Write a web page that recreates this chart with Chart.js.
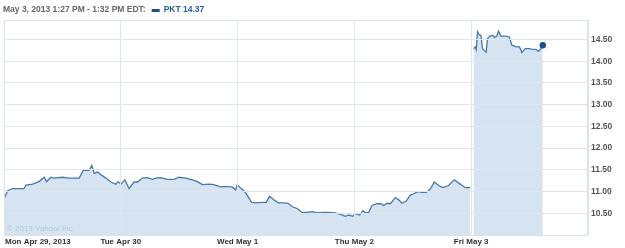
<!DOCTYPE html>
<html>
<head>
<meta charset="utf-8">
<script src="https://cdn.jsdelivr.net/npm/chart.js@4/dist/chart.umd.min.js"></script>
<style>
  html,body{margin:0;padding:0;background:#fff;}
  #wrap{width:625px;height:248px;position:relative;}
</style>
</head>
<body>
<div id="wrap"><canvas id="c" width="625" height="248"></canvas></div>
<script>
// ---- data (x = trading days since Mon Apr 29 open; null = overnight gap) ----
const dayLabels = ['Mon Apr 29, 2013', 'Tue Apr 30', 'Wed May 1', 'Thu May 2', 'Fri May 3'];
const dayTicks = [0, 1, 2, 3, 4, 5];
const priceTicks = [10.5, 11.0, 11.5, 12.0, 12.5, 13.0, 13.5, 14.0, 14.5];
const titleText = 'May 3, 2013 1:27 PM - 1:32 PM EDT:';
const legendText = 'PKT 14.37';
const watermark = '\u00A9 2013 Yahoo! Inc.';

const days = [
  0.000, 0.032, 0.074, 0.171, 0.188, 0.245, 0.299, 0.344, 0.365, 0.402, 0.425, 0.502, 0.558, 0.644,
  0.678, 0.729, 0.752, 0.772, 0.801, 0.829, 0.872, 0.915, 0.957, 0.977,
  1.000, 1.034, 1.071, 1.114, 1.143, 1.185, 1.228, 1.271, 1.299, 1.342, 1.399, 1.456, 1.498, 1.556,
  1.613, 1.656, 1.698, 1.755, 1.797, 1.855, 1.906, 1.955, 1.983,
  1.997, 2.026, 2.054, 2.083, 2.120, 2.154, 2.211, 2.245, 2.274, 2.310, 2.348, 2.396, 2.433, 2.468,
  2.510, 2.553, 2.596, 2.638, 2.681, 2.729, 2.780, 2.838, 2.889, 2.923, 2.951, 2.985,
  3.009, 3.045, 3.073, 3.094, 3.122, 3.151, 3.194, 3.228, 3.250, 3.280, 3.308, 3.350, 3.379, 3.408,
  3.444, 3.479, 3.507, 3.544, 3.579, 3.615, 3.650, 3.684, 3.721, 3.758, 3.806, 3.855, 3.891, 3.949, 3.991,
  4.005,
  4.020, 4.034, 4.043, 4.054, 4.071, 4.083, 4.097, 4.111, 4.128, 4.139, 4.162, 4.185, 4.199, 4.220,
  4.234, 4.254, 4.291, 4.327, 4.348, 4.385, 4.413, 4.434, 4.462, 4.490, 4.519, 4.556, 4.576, 4.596, 4.613
];
const prices = [
  10.83, 11.02, 11.07, 11.07, 11.15, 11.17, 11.23, 11.33, 11.23, 11.33, 11.31, 11.33, 11.31, 11.31,
  11.49, 11.49, 11.60, 11.42, 11.45, 11.39, 11.31, 11.22, 11.17, 11.23,
  11.17, 11.27, 11.07, 11.22, 11.22, 11.31, 11.32, 11.28, 11.31, 11.32, 11.28, 11.28, 11.33, 11.31,
  11.27, 11.23, 11.16, 11.17, 11.16, 11.11, 11.12, 11.10, 11.04,
  11.16, 11.08, 11.02, 10.91, 10.75, 10.74, 10.75, 10.75, 10.89, 10.81, 10.74, 10.74, 10.73, 10.65,
  10.61, 10.52, 10.52, 10.54, 10.51, 10.52, 10.52, 10.51, 10.47, 10.43, 10.46, 10.43,
  10.49, 10.46, 10.56, 10.51, 10.52, 10.68, 10.72, 10.72, 10.68, 10.73, 10.72, 10.86, 10.81, 10.73,
  10.78, 10.92, 10.95, 11.00, 10.98, 10.98, 11.06, 11.22, 11.14, 11.09, 11.14, 11.27, 11.20, 11.09, 11.09,
  null,
  14.29, 14.33, 14.27, 14.68, 14.60, 14.60, 14.29, 14.25, 14.21, 14.52, 14.58, 14.60, 14.55, 14.58,
  14.69, 14.58, 14.58, 14.56, 14.37, 14.33, 14.33, 14.20, 14.29, 14.29, 14.28, 14.27, 14.23, 14.29, 14.37
];

const FONT = '"Liberation Sans", Arial, sans-serif';
const gridColor = '#dde6ee';

const overlay = {
  id: 'overlay',
  afterDraw(chart) {
    const ctx = chart.ctx;
    const a = chart.chartArea;
    const xs = chart.scales.x;
    ctx.save();
    // chart area border
    ctx.strokeStyle = '#d8e2eb';
    ctx.lineWidth = 1;
    ctx.strokeRect(Math.round(a.left) + 0.5, Math.round(a.top) + 0.5,
                   Math.round(a.right - a.left) - 1, Math.round(a.bottom - a.top));
    // x labels
    ctx.font = 'bold 8px ' + FONT;
    ctx.fillStyle = '#333333';
    ctx.textBaseline = 'middle';
    dayLabels.forEach((lab, i) => {
      const px = xs.getPixelForValue(i);
      ctx.textAlign = i === 0 ? 'left' : 'center';
      ctx.fillText(lab, i === 0 ? px + 1 : px, a.bottom + 7);
    });
    // watermark
    ctx.font = '8px ' + FONT;
    ctx.fillStyle = '#b5c6d5';
    ctx.textAlign = 'left';
    ctx.fillText(watermark, a.left + 3, a.bottom - 6);
    // header
    ctx.font = 'bold 8.5px ' + FONT;
    ctx.fillStyle = '#666666';
    ctx.fillText(titleText, 3, 10);
    const w = ctx.measureText(titleText).width;
    ctx.fillStyle = '#1d4f8c';
    ctx.fillRect(3 + w + 6, 9, 8, 3);
    ctx.fillStyle = '#2a5d9c';
    ctx.fillText(legendText, 3 + w + 18, 10);
    ctx.restore();
  }
};

new Chart(document.getElementById('c'), {
  type: 'line',
  data: {
    datasets: [{
      data: days.map((d, i) => ({ x: d, y: prices[i] })),
      borderColor: '#4a79a9',
      borderWidth: 1.3,
      backgroundColor: '#d5e4f0',
      fill: 'start',
      tension: 0,
      spanGaps: false,
      pointRadius: ctx => ctx.dataIndex === days.length - 1 ? 3.2 : 0,
      pointBackgroundColor: '#1d4f8c',
      pointBorderColor: '#1d4f8c',
      pointBorderWidth: 0
    }]
  },
  options: {
    responsive: false,
    animation: false,
    events: [],
    layout: { padding: { left: 2, top: 20, bottom: 13, right: 0 } },
    plugins: { legend: { display: false }, tooltip: { enabled: false } },
    scales: {
      x: {
        type: 'linear',
        min: 0, max: 5,
        afterBuildTicks: s => { s.ticks = dayTicks.map(v => ({ value: v })); },
        afterFit: s => { s.height = 0; },
        ticks: { display: false },
        grid: { color: gridColor, drawTicks: false, z: 1 },
        border: { display: false }
      },
      y: {
        position: 'right',
        min: 10, max: 14.95,
        afterBuildTicks: s => { s.ticks = priceTicks.map(v => ({ value: v })); },
        afterFit: s => { s.width = 37; },
        ticks: {
          padding: 3,
          color: '#555555',
          font: { family: FONT, size: 8.5, weight: 'bold' },
          callback: v => v.toFixed(2)
        },
        grid: { color: gridColor, drawTicks: false, z: 1 },
        border: { display: false }
      }
    }
  },
  plugins: [overlay]
});
</script>
</body>
</html>
